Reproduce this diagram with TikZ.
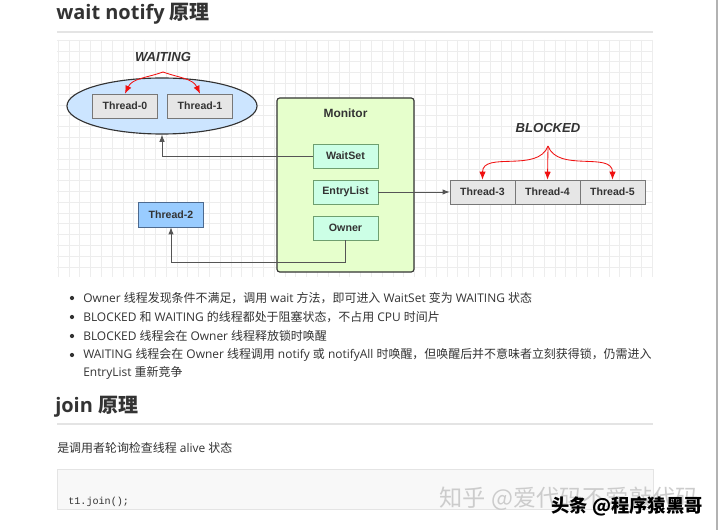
\documentclass[tikz,border=0pt]{standalone}
\usepackage{fontspec}
\setmainfont{Open Sans}
\newfontfamily\zhfont{Noto Sans CJK SC}
\newfontfamily\dgfont{Liberation Sans}
\newfontfamily\codefont{Liberation Mono}
\newcommand\zh[1]{{\zhfont #1}}
\usetikzlibrary{arrows.meta, shapes.geometric}
\usepackage{xcolor}
\definecolor{txtgray}{HTML}{333333}
\definecolor{linegray}{HTML}{555555}
\definecolor{gridgray}{HTML}{EDEDED}
\definecolor{rulegray}{HTML}{E4E4E4}
\definecolor{waitblue}{HTML}{CCE5FF}
\definecolor{thrgray}{HTML}{E6E6E6}
\definecolor{monfill}{HTML}{E6FFCC}
\definecolor{slotfill}{HTML}{CCFFE6}
\definecolor{slotdraw}{HTML}{6F9F6F}
\definecolor{runblue}{HTML}{99CCFF}
\definecolor{runedge}{HTML}{4D6A8F}
\definecolor{wakered}{HTML}{F01010}
\definecolor{codebg}{HTML}{F8F8F8}

\begin{document}
\begin{tikzpicture}[
  x=0.025cm, y=0.025cm,
  thr/.style={rectangle, draw=linegray!80, fill=thrgray,
              minimum width=1.625cm, minimum height=0.6cm, inner sep=0pt,
              font=\dgfont\bfseries\fontsize{7.5}{9}\selectfont, text=txtgray},
  slot/.style={rectangle, draw=slotdraw, fill=slotfill,
               minimum width=1.625cm, minimum height=0.6cm, inner sep=0pt,
               font=\dgfont\bfseries\fontsize{7.6}{9}\selectfont, text=txtgray},
  state/.style={font=\dgfont\bfseries\itshape\fontsize{9.3}{11}\selectfont,
                text=txtgray},
  link/.style={-{Latex[length=1.8mm, width=1.4mm]}, draw=linegray, line width=0.7pt},
  wake/.style={-{Latex[length=2mm, width=1.6mm]}, draw=wakered, line width=0.6pt},
  hdr/.style={anchor=west, inner sep=0pt, text=txtgray,
              font=\bfseries\fontsize{14.2}{17}\selectfont},
  body/.style={anchor=west, inner sep=0pt, text=txtgray,
               font=\fontsize{8.5}{12}\selectfont},
  bul/.style={circle, fill=txtgray, inner sep=0pt, minimum size=3pt},
  gridline/.style={draw=gridgray, line width=0.4pt}
]

% === Page ===
\fill[white] (0,0) rectangle (720,-530);
\useasboundingbox (0,0) rectangle (720,-530);
\draw[gray!60, line width=0.8pt] (717,0) -- (717,-530);

% === Heading ===
\node[hdr] (h1) at (56,-14) {wait notify \zh{原理}};
\draw[rulegray, line width=1pt] (57,-32) -- (653,-32);

% === Grid behind the diagram ===
\foreach \i in {0,...,55}
  \draw[gridline] ({58+10.8*\i},-40) -- ({58+10.8*\i},-277);
\foreach \j in {0,...,21}
  \draw[gridline] (57,{-40-10.8*\j}) -- (653,{-40-10.8*\j});

% === WAITING set ===
\node[ellipse, draw=txtgray, fill=waitblue, line width=0.8pt,
      minimum width=4.75cm, minimum height=1.4cm, inner sep=0pt]
  (wait) at (162,-106) {};
\node[thr] (t0) at (125,-106) {Thread-0};
\node[thr] (t1) at (200,-106) {Thread-1};
\node[state] (waitlab) at (163,-57) {WAITING};
\coordinate (wsrc) at (163,-72);

% === Monitor ===
\node[rectangle, rounded corners=2pt, draw=txtgray, fill=monfill,
      line width=0.8pt, minimum width=3.425cm, minimum height=4.35cm]
  (mon) at (345.5,-185) {};
\node[font=\dgfont\bfseries\fontsize{8.5}{10}\selectfont, text=txtgray]
  (monlab) at (345.5,-113) {Monitor};
\node[slot] (ws)  at (345.5,-156) {WaitSet};
\node[slot] (el)  at (345.5,-192) {EntryList};
\node[slot] (own) at (345.5,-228) {Owner};

% === BLOCKED queue ===
\node[thr] (t3) at (482.5,-192) {Thread-3};
\node[thr] (t4) at (547.5,-192) {Thread-4};
\node[thr] (t5) at (612.5,-192) {Thread-5};
\node[state] (blklab) at (548,-128) {BLOCKED};
\coordinate (bsrc) at (548,-146);

% === Running thread ===
\node[thr, fill=runblue, draw=runedge, minimum height=0.625cm]
  (t2) at (171,-214.5) {Thread-2};

% === Connectors ===
\draw[link] (ws.west) -| (wait.south);
\draw[link] (el.east) -- (t3.west);
\draw[link] (own.south) -- ++(0,-22) -| (t2.south);

\draw[wake] (wsrc) to[out=200, in=65] (t0.north);
\draw[wake] (wsrc) to[out=-20, in=115] (t1.north);
\draw[wake] (bsrc) to[out=250, in=90] (t3.north);
\draw[wake] (bsrc) -- (t4.north);
\draw[wake] (bsrc) to[out=290, in=90] (t5.north);

% === Notes ===
\node[bul] (b1d) at (72,-298) {};
\node[bul] (b2d) at (72,-317) {};
\node[bul] (b3d) at (72,-336) {};
\node[bul] (b4d) at (72,-355) {};
\node[body] (b1) at (83,-298)
  {Owner \zh{线程发现条件不满足，调用} wait \zh{方法，即可进入} WaitSet \zh{变为} WAITING \zh{状态}};
\node[body] (b2) at (83,-317)
  {BLOCKED \zh{和} WAITING \zh{的线程都处于阻塞状态，不占用} CPU \zh{时间片}};
\node[body] (b3) at (83,-336)
  {BLOCKED \zh{线程会在} Owner \zh{线程释放锁时唤醒}};
\node[body] (b4) at (83,-355)
  {WAITING \zh{线程会在} Owner \zh{线程调用} notify \zh{或} notifyAll \zh{时唤醒，但唤醒后并不意味者立刻获得锁，仍需进入}};
\node[body] (b4w) at (83,-373) {EntryList \zh{重新竞争}};

% === join ===
\node[hdr] (h2) at (55,-407) {join \zh{原理}};
\draw[rulegray, line width=1pt] (57,-424) -- (653,-424);
\node[body] (jtxt) at (57,-448) {\zh{是调用者轮询检查线程} alive \zh{状态}};
\draw[draw=rulegray, fill=codebg] (57,-469) rectangle (653,-509);
\node[anchor=west, inner sep=0pt, text=txtgray,
      font=\codefont\fontsize{7.2}{9}\selectfont]
  (code) at (68,-502) {t1.join();};

% === Watermarks ===
\node[anchor=east, inner sep=0pt, text=gray!40,
      font=\zhfont\fontsize{16.5}{18}\selectfont]
  (zhihu) at (699,-499) {知乎 @爱代码不爱敲代码};
\node[anchor=east, inner sep=0pt, text=black,
      font=\zhfont\bfseries\fontsize{13}{15}\selectfont]
  (toutiao) at (703,-506) {头条 @程序猿黑哥};

\end{tikzpicture}
\end{document}
